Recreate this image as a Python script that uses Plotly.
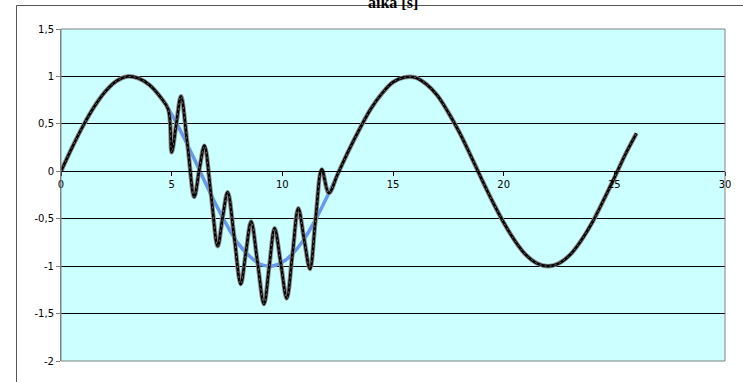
import plotly.graph_objects as go

# smooth reference curve (blue)
blue_x = [0, 0.5, 1, 1.5, 2, 2.5, 3, 3.5, 4, 4.5, 5, 5.5, 6, 6.5, 7, 7.5, 8, 8.5, 9, 9.5,
          10, 10.5, 11, 11.5, 12, 12.5, 13, 13.5, 14, 14.5, 15, 15.5, 16, 16.5, 17, 17.5,
          18, 18.5, 19, 19.5, 20, 20.5, 21, 21.5, 22, 22.5, 23, 23.5, 24, 24.5, 25, 25.5, 26]
blue_y = [0.00, 0.25, 0.48, 0.68, 0.84, 0.95, 1.00, 0.98, 0.91, 0.78, 0.60, 0.38, 0.14, -0.11,
          -0.35, -0.57, -0.76, -0.89, -0.98, -1.00, -0.96, -0.86, -0.71, -0.51, -0.28, -0.03,
          0.22, 0.45, 0.66, 0.82, 0.94, 0.99, 0.99, 0.92, 0.80, 0.62, 0.41, 0.17, -0.08, -0.32,
          -0.54, -0.73, -0.88, -0.97, -1.00, -0.97, -0.88, -0.73, -0.54, -0.31, -0.07, 0.18, 0.40]

# disturbed curve (black)
black_x = [0, 0.5, 1, 1.5, 2, 2.5, 3, 3.5, 4, 4.5, 4.85,
           5.0, 5.21, 5.42, 5.72, 6.02, 6.25, 6.48, 6.78, 7.08, 7.3, 7.53, 7.83, 8.12,
           8.35, 8.59, 8.88, 9.17, 9.41, 9.65, 9.93, 10.2, 10.46, 10.72, 10.98, 11.25,
           11.5, 11.78, 12.1,
           12.5, 13, 13.5, 14, 14.5, 15, 15.5, 16, 16.5, 17, 17.5, 18, 18.5, 19, 19.5,
           20, 20.5, 21, 21.5, 22, 22.5, 23, 23.5, 24, 24.5, 25, 25.5, 26]
black_y = [0.00, 0.25, 0.48, 0.68, 0.84, 0.95, 1.00, 0.98, 0.91, 0.78, 0.65,
           0.20, 0.50, 0.79, 0.27, -0.27, 0.02, 0.27, -0.25, -0.79, -0.49, -0.22, -0.70, -1.19,
           -0.86, -0.53, -0.96, -1.40, -1.00, -0.60, -0.97, -1.34, -0.87, -0.39, -0.71, -1.03,
           -0.51, 0.02, -0.23,
           -0.03, 0.22, 0.45, 0.66, 0.82, 0.94, 0.99, 0.99, 0.92, 0.80, 0.62, 0.41, 0.17, -0.08,
           -0.32, -0.54, -0.73, -0.88, -0.97, -1.00, -0.97, -0.88, -0.73, -0.54, -0.31, -0.07,
           0.18, 0.40]

x_ticks = [0, 5, 10, 15, 20, 25, 30]
x_ticklabels = ["0", "5", "10", "15", "20", "25", "30"]
y_ticks = [-2, -1.5, -1, -0.5, 0, 0.5, 1, 1.5]
y_ticklabels = ["-2", "-1,5", "-1", "-0,5", "0", "0,5", "1", "1,5"]
x_title = "aika [s]"

fig = go.Figure()
fig.add_trace(go.Scatter(x=blue_x, y=blue_y, mode="lines",
                         line=dict(color="#6699ee", width=3.5, shape="spline"),
                         hoverinfo="skip", showlegend=False))
fig.add_trace(go.Scatter(x=black_x, y=black_y, mode="lines",
                         line=dict(color="#8a8a8a", width=4.5, shape="spline"),
                         hoverinfo="skip", showlegend=False))
fig.add_trace(go.Scatter(x=black_x, y=black_y, mode="lines",
                         line=dict(color="#000000", width=2.6, shape="spline"),
                         showlegend=False))
fig.add_trace(go.Scatter(x=black_x, y=black_y, mode="lines",
                         line=dict(color="#6e6e6e", width=1.0, shape="spline", dash="2px,3px"),
                         hoverinfo="skip", showlegend=False))

fig.update_layout(
    width=743, height=382,
    margin=dict(l=61, r=18, t=29, b=21),
    paper_bgcolor="white",
    plot_bgcolor="#ccffff",
    font=dict(family="DejaVu Sans", size=10, color="black"),
    xaxis=dict(range=[0, 30], tickvals=x_ticks, ticktext=x_ticklabels,
               anchor="free", position=2 / 3.5,
               showline=True, linecolor="black", linewidth=1,
               ticks="outside", ticklen=4, tickcolor="black",
               showgrid=False, zeroline=False,
               tickfont=dict(family="DejaVu Sans", size=10)),
    yaxis=dict(range=[-2, 1.5], tickvals=y_ticks, ticktext=y_ticklabels,
               showline=True, linecolor="#808080", linewidth=1,
               ticks="outside", ticklen=4, tickcolor="#808080",
               showgrid=True, gridcolor="black", gridwidth=1, zeroline=False,
               tickfont=dict(family="DejaVu Sans", size=10)),
    shapes=[
        dict(type="rect", xref="paper", yref="paper", x0=0, x1=1, y0=0, y1=1,
             line=dict(color="#808080", width=1), layer="above"),
        dict(type="rect", xref="paper", yref="paper",
             x0=(16.5 - 61) / 664, x1=1.05, y0=-0.2, y1=1 + (29 - 5.5) / 332,
             line=dict(color="#555555", width=1), layer="below"),
    ],
    annotations=[
        dict(text="<b>" + x_title + "</b>", xref="paper", yref="paper",
             x=0.5, y=1 + (29 - 2) / 332, xanchor="center", yanchor="middle",
             showarrow=False,
             font=dict(family="Liberation Serif", size=16, color="black")),
    ],
)

fig.write_html("out.html",
               config={"displayModeBar": False},
               post_script="document.body.style.margin='0';document.body.style.overflow='hidden';")
